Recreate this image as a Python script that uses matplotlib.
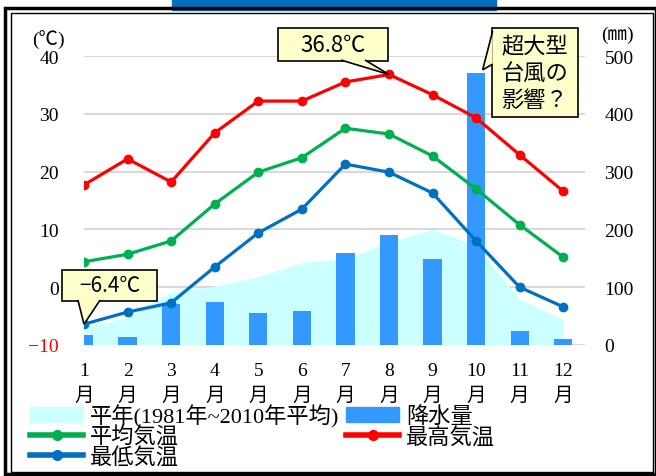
"""Monthly temperature and precipitation chart (climograph)."""

import matplotlib
matplotlib.use("Agg")
import matplotlib.pyplot as plt
from matplotlib.lines import Line2D
from matplotlib.patches import Patch, Rectangle, Polygon

plt.rcParams['font.family'] = ['Liberation Serif', 'Noto Sans CJK JP', 'DejaVu Sans']

months = [1, 2, 3, 4, 5, 6, 7, 8, 9, 10, 11, 12]
month_labels = [f"{m}\n月" for m in months]

temp_max = [17.7, 22.2, 18.2, 26.7, 32.2, 32.2, 35.5, 36.8, 33.3, 29.3, 22.9, 16.6]
temp_avg = [4.4, 5.7, 8.0, 14.4, 19.9, 22.4, 27.5, 26.5, 22.7, 17.0, 10.8, 5.2]
temp_min = [-6.4, -4.3, -2.7, 3.5, 9.4, 13.5, 21.3, 19.9, 16.3, 8.0, 0.0, -3.4]
precip = [17, 14, 71, 74, 55, 59, 159, 190, 149, 470, 24, 10]
precip_normal = [31, 48, 92, 102, 118, 143, 149, 178, 200, 172, 80, 43]

temp_ticks = [-10, 0, 10, 20, 30, 40]
mm_ticks = [0, 100, 200, 300, 400, 500]

RED = '#FF0000'
GREEN = '#00B050'
BLUE = '#0070C0'
BAR = '#3399FF'
AREA = '#CCFFFF'
NOTE = '#FFFFCC'

fig = plt.figure(figsize=(6.56, 4.77), dpi=100)
W, H = 656, 477

# decoration: banner and double frame
fig.patches.append(Rectangle((172 / W, 1 - 11 / H), 324 / W, 11 / H,
                             transform=fig.transFigure, color=BLUE, zorder=0))
fig.patches.append(Rectangle((5 / W, 2 / H), 651 / W, 1 - 11 / H,
                             transform=fig.transFigure, fill=False, ec='black', lw=2.5))
fig.patches.append(Rectangle((11 / W, 4 / H), 642 / W, 1 - 18 / H,
                             transform=fig.transFigure, fill=False, ec='black', lw=1.0))

ax2 = fig.add_axes([84 / W, 1 - 346 / H, 501 / W, 289 / H])
ax = ax2.twinx()
ax.set_zorder(ax2.get_zorder() + 1)
ax.patch.set_visible(False)

# precipitation (right axis)
ax2.fill_between(months, precip_normal, 0, color=AREA, lw=0, zorder=1)
ax2.bar(months, precip, width=0.42, color=BAR, zorder=2)
ax2.set_ylim(0, 500)
ax2.set_yticks(mm_ticks)
ax2.set_xlim(1, 12.5)
ax2.yaxis.grid(True, color='#D9D9D9', lw=1.5, zorder=0)
ax2.set_axisbelow(True)

# temperatures (drawn on top)
for vals, col in [(temp_max, RED), (temp_avg, GREEN), (temp_min, BLUE)]:
    ax.plot(months, vals, color=col, lw=2.3, marker='o', markersize=6, zorder=5)
ax.set_ylim(-10, 40)
ax.set_yticks(temp_ticks)
ax.set_xlim(1, 12.5)

# place temperature on the left, mm on the right
ax.yaxis.tick_left()
ax2.yaxis.tick_right()
ax.tick_params(axis='y', length=0, pad=18, labelsize=14)
ax2.tick_params(axis='y', length=0, pad=14, labelsize=14)
ax2.set_xticks(months)
ax2.set_xticklabels(month_labels, linespacing=1.6)
ax2.tick_params(axis='x', length=0, pad=12, labelsize=14)
ax.get_yticklabels()[0].set_color(RED)
for a in (ax, ax2):
    for s in a.spines.values():
        s.set_visible(False)

fig.text(48 / W, 1 - 40 / H, '(℃)', ha='center', va='center', fontsize=14)
fig.text(617 / W, 1 - 35 / H, '(㎜)', ha='center', va='center', fontsize=14)


# callouts: box extent (x0, x1, y0, y1), pointer base (two points) and tip, all in data units
def callout(text, box, base, tip, size):
    x0, x1, y0, y1 = box
    ax.add_patch(Rectangle((x0, y0), x1 - x0, y1 - y0, fc=NOTE, ec='black', lw=1.2,
                           clip_on=False, zorder=10))
    ax.add_patch(Polygon([base[0], tip, base[1]], closed=True, fc=NOTE, ec='none',
                         clip_on=False, zorder=11))
    for b in base:
        ax.plot([b[0], tip[0]], [b[1], tip[1]], color='black', lw=1.2,
                clip_on=False, zorder=12, solid_capstyle='butt')
    ax.text((x0 + x1) / 2, (y0 + y1) / 2, text, ha='center', va='center', fontsize=size,
            family=['Noto Sans CJK JP', 'DejaVu Sans'], linespacing=1.2, zorder=13)


callout('36.8℃', (5.45, 7.97, 39.13, 44.84),
        [(6.9, 39.3), (7.45, 39.3)], (8, temp_max[7]), 16)
callout('−6.4℃', (0.495, 2.674, -2.39, 2.98),
        [(0.86, -2.22), (1.37, -2.22)], (1, temp_min[0]), 15)
callout('超大型\n台風の\n影響？', (10.36, 12.33, 29.45, 44.84),
        [(10.38, 44.3), (10.38, 38.6)], (10.15, 37.6), 16)

# legend
handles = [
    Patch(color=AREA),
    Line2D([], [], color=GREEN, lw=4, marker='o', markersize=7),
    Line2D([], [], color=BLUE, lw=4, marker='o', markersize=7),
    Patch(color=BAR),
    Line2D([], [], color=RED, lw=4, marker='o', markersize=7),
]
labels = ['平年(1981年~2010年平均)', '平均気温', '最低気温', '降水量', '最高気温']
fig.legend(handles, labels, loc='upper left', bbox_to_anchor=(30 / W, 1 - 405 / H),
           ncol=2, frameon=False, fontsize=16, handlelength=2.4, handletextpad=0.3,
           labelspacing=-0.03, columnspacing=0.3, borderpad=0, borderaxespad=0)

fig.savefig('out.png', dpi=100)
